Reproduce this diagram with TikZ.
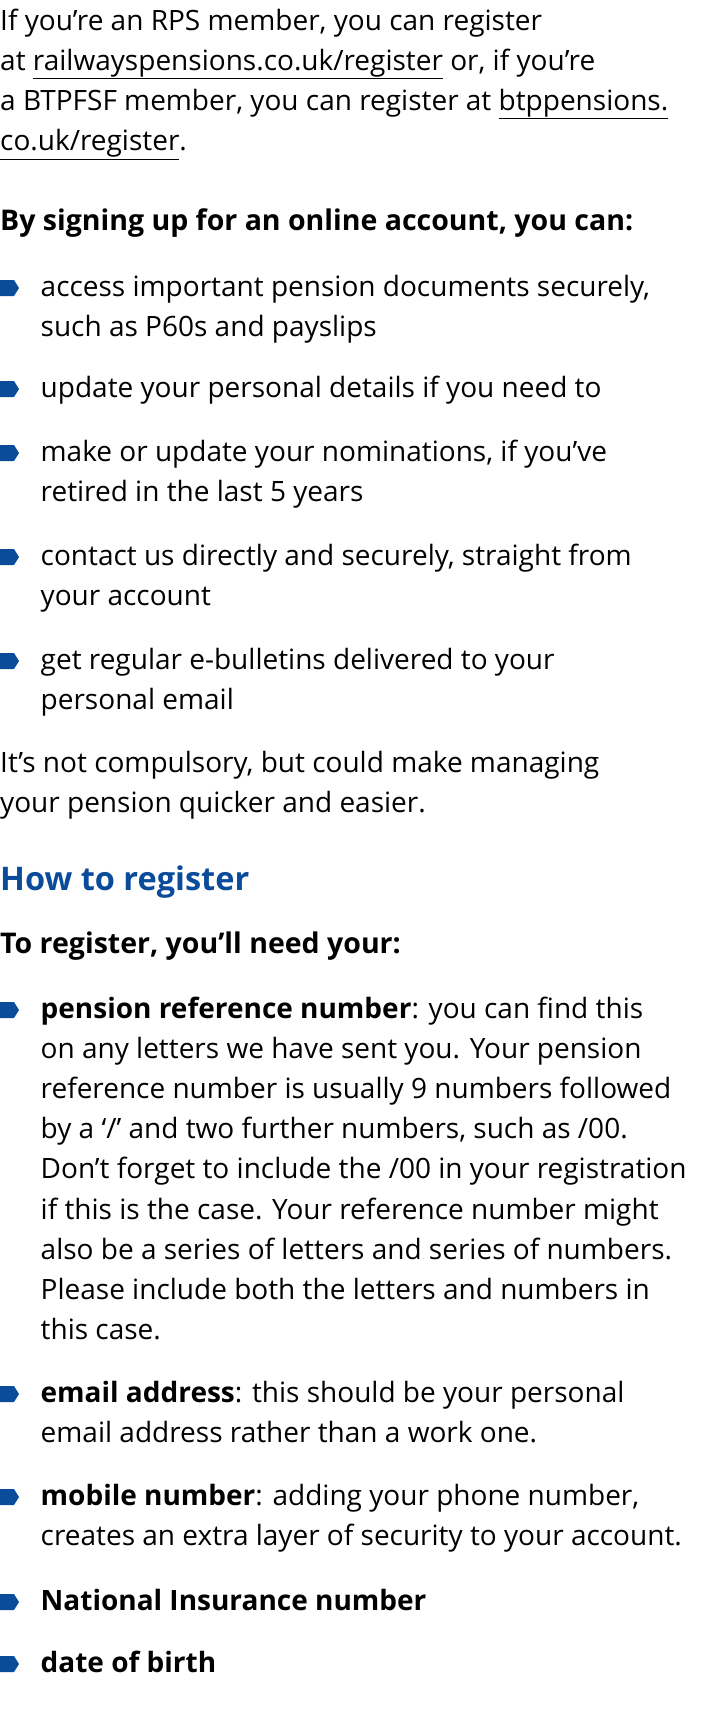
\documentclass[tikz,border=0pt]{standalone}
\usepackage{fontspec}
\setmainfont{Open Sans}
\definecolor{rpsblue}{HTML}{0A4B9A}
\tikzset{
  para/.style={anchor=base west, align=left, inner sep=0pt, font=\fontsize{28}{40.2}\selectfont},
  boldline/.style={para, font=\fontsize{28.5}{40.2}\selectfont\bfseries},
  headline/.style={para, font=\fontsize{32.5}{40.2}\selectfont\bfseries, text=rpsblue}
}
% node anchors sit on the baseline of the last line
\newcommand{\tagbullet}[1]{\fill[rpsblue] (0,#1-16) -- (14,#1-16) -- (19,#1-8) -- (14,#1) -- (0,#1) -- cycle;}
\begin{document}
\begin{tikzpicture}[x=1pt,y=-1pt]
\useasboundingbox (0,0) rectangle (722,1709);
% intro
\node[para] (intro) at (0,150.6) {If you’re an RPS member, you can register\\at \underline{railwayspensions.co.uk/register} or, if you’re\\a BTPFSF member, you can register at \underline{btppensions.}\\\underline{co.uk/register}.};
\node[boldline] (signup) at (0,230) {By signing up for an online account, you can:};
% first list
\foreach \y in {296,397,461,565,669} {\tagbullet{\y}}
\node[para] (b1) at (40.5,336.2) {access important pension documents securely,\\such as P60s and payslips};
\node[para] (b2) at (40.5,397) {update your personal details if you need to};
\node[para] (b3) at (40.5,501.2) {make or update your nominations, if you’ve\\retired in the last 5 years};
\node[para] (b4) at (40.5,605.2) {contact us directly and securely, straight from\\your account};
\node[para] (b5) at (40.5,709.2) {get regular e-bulletins delivered to your\\personal email};
\node[para] (optional) at (0,812.2) {It’s not compulsory, but could make managing\\your pension quicker and easier.};
% how to register
\node[headline] (howto) at (0,890) {How to register};
\node[boldline] (need) at (0,953) {To register, you’ll need your:};
\foreach \y in {1018,1402,1505,1610,1672} {\tagbullet{\y}}
\node[para] (n1) at (40.5,1339.6) {\textbf{pension reference number}: you can find this\\on any letters we have sent you. Your pension\\reference number is usually 9 numbers followed\\by a ‘/’ and two further numbers, such as /00.\\Don’t forget to include the /00 in your registration\\if this is the case. Your reference number might\\also be a series of letters and series of numbers.\\Please include both the letters and numbers in\\this case.};
\node[para] (n2) at (40.5,1442.2) {\textbf{email address}: this should be your personal\\email address rather than a work one.};
\node[para] (n3) at (40.5,1545.2) {\textbf{mobile number}: adding your phone number,\\creates an extra layer of security to your account.};
\node[para] (n4) at (40.5,1610) {\textbf{National Insurance number}};
\node[para] (n5) at (40.5,1672) {\textbf{date of birth}};
\end{tikzpicture}
\end{document}
